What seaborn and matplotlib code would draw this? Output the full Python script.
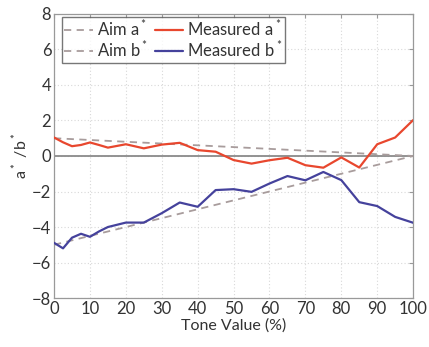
import numpy as np
import pandas as pd
import matplotlib
matplotlib.use("Agg")
import matplotlib.pyplot as plt
import seaborn as sns

tone = [0, 2.5, 5, 7.5, 10, 12.5, 15, 20, 25, 30, 35, 40, 45, 50, 55, 60,
        65, 70, 75, 80, 85, 90, 95, 100]
measured_a = [1.04, 0.77, 0.55, 0.62, 0.76, 0.62, 0.47, 0.66, 0.43, 0.64, 0.74,
              0.33, 0.24, -0.23, -0.43, -0.24, -0.10, -0.52, -0.66, -0.08,
              -0.65, 0.66, 1.04, 2.02]
measured_b = [-4.89, -5.2, -4.6, -4.38, -4.55, -4.25, -4.0, -3.75, -3.75, -3.22,
              -2.62, -2.86, -1.92, -1.87, -2.02, -1.55, -1.13, -1.37, -0.90,
              -1.36, -2.6, -2.82, -3.43, -3.76]
aim_x = [0, 100]
aim_a = [1.0, 0.0]
aim_b = [-5.0, 0.0]

xticks = list(range(0, 101, 10))
yticks = list(range(-8, 9, 2))

sns.set_style("white")
plt.rcParams['font.family'] = ['Lato', 'DejaVu Sans']
plt.rcParams['mathtext.fontset'] = 'custom'
plt.rcParams['mathtext.rm'] = 'Lato'

fig = plt.figure(figsize=(4.29, 3.47), dpi=100)
ax = fig.add_axes([0.126, 0.141, 0.837, 0.819])

aim_color = "#a89c9c"
red = "#e8472e"
blue = "#45429c"

ax.axhline(0, color="#8a8a8a", lw=1.3, zorder=1)

df_aim_a = pd.DataFrame({"x": aim_x, "y": aim_a})
df_aim_b = pd.DataFrame({"x": aim_x, "y": aim_b})
df_ma = pd.DataFrame({"x": tone, "y": measured_a})
df_mb = pd.DataFrame({"x": tone, "y": measured_b})

sns.lineplot(data=df_aim_a, x="x", y="y", ax=ax, color=aim_color, lw=1.3,
             linestyle=(0, (4, 3)), label="Aim a$^*$", zorder=2)
sns.lineplot(data=df_aim_b, x="x", y="y", ax=ax, color=aim_color, lw=1.3,
             linestyle=(0, (4, 3)), label="Aim b$^*$", zorder=2)
sns.lineplot(data=df_ma, x="x", y="y", ax=ax, color=red, lw=1.6,
             label="Measured a$^*$", zorder=3)
sns.lineplot(data=df_mb, x="x", y="y", ax=ax, color=blue, lw=1.6,
             label="Measured b$^*$", zorder=3)

ax.set_xlim(0, 100)
ax.set_ylim(-8, 8)
ax.set_xticks(xticks)
ax.set_yticks(yticks)
ax.set_yticklabels([str(t).replace('-', '\u2212') for t in yticks])
ax.tick_params(direction="in", top=True, right=True, length=3, width=0.8,
               color="#999999", labelsize=12, labelcolor="#333333", pad=2)
ax.grid(True, color="#d8d8d8", linestyle=(0, (1, 2)), lw=0.8)
for s in ax.spines.values():
    s.set_color("#999999")
    s.set_linewidth(0.9)

ax.set_xlabel("Tone Value (%)", fontsize=11.5, color="#333333", labelpad=1)
ax.set_ylabel("a$^*$ /b$^*$", fontsize=11.5, color="#333333", labelpad=1)

leg = ax.legend(ncol=2, loc="upper left", bbox_to_anchor=(0.022, 0.99),
                fontsize=12, frameon=True, fancybox=False, borderpad=0.15,
                handlelength=1.7, handletextpad=0.25, columnspacing=0.4,
                labelspacing=0.05, borderaxespad=0.0)
leg.get_frame().set_edgecolor("#555555")
leg.get_frame().set_linewidth(1.0)
for t in leg.get_texts():
    t.set_color("#333333")

fig.savefig("out.png", dpi=100)
